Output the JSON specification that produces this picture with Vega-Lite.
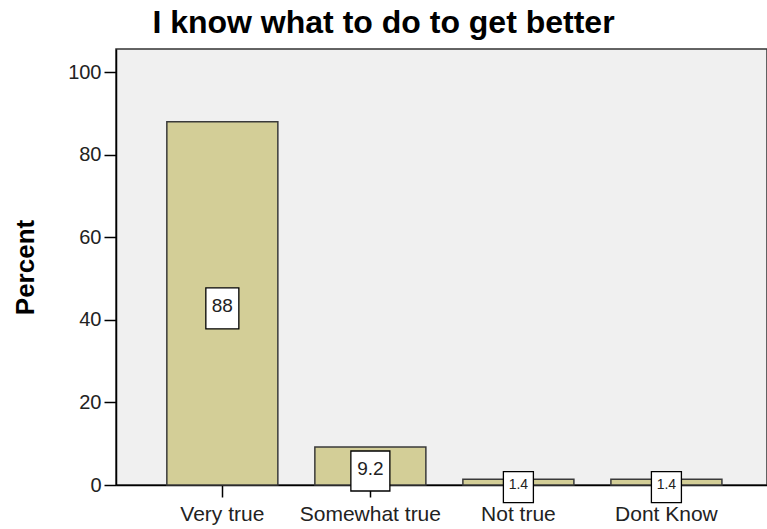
{
  "$schema": "https://vega.github.io/schema/vega-lite/v6.json",
  "width": 651,
  "height": 436,
  "autosize": {"type": "none"},
  "padding": {"left": 116, "top": 49, "right": 0, "bottom": 44},
  "background": "white",
  "config": {
    "view": {"fill": "#F0F0F0", "stroke": "#333333", "strokeWidth": 1.5},
    "font": "Liberation Sans"
  },
  "title": {
    "text": "I know what to do to get better",
    "fontSize": 32,
    "fontWeight": "bold",
    "font": "Liberation Sans",
    "color": "#000000",
    "anchor": "middle",
    "dx": -58,
    "offset": 9
  },
  "data": {
    "values": [
      {"Response": "Very true", "Percent": 88},
      {"Response": "Somewhat true", "Percent": 9.2},
      {"Response": "Not true", "Percent": 1.4},
      {"Response": "Dont Know", "Percent": 1.4}
    ]
  },
  "layer": [
    {
      "mark": {"type": "bar", "fill": "#D3CE97", "stroke": "#3a3a3a", "strokeWidth": 1.5},
      "encoding": {
        "x": {
          "field": "Response",
          "type": "nominal",
          "sort": null,
          "scale": {"paddingInner": 0.25, "paddingOuter": 0.324, "align": 0.53},
          "axis": {
            "title": null,
            "labelAngle": 0,
            "labelFontSize": 21,
            "labelColor": "#222222",
            "labelPadding": 6,
            "tickSize": 12,
            "tickColor": "#000000",
            "tickWidth": 1.5,
            "domainColor": "#000000",
            "domainWidth": 1.5
          }
        },
        "y": {
          "field": "Percent",
          "type": "quantitative",
          "scale": {"domain": [0, 105.6], "nice": false},
          "axis": {
            "title": "Percent",
            "titleFontSize": 26,
            "titleFontWeight": "bold",
            "titleColor": "#000000",
            "titlePadding": 29,
            "values": [0, 20, 40, 60, 80, 100],
            "grid": false,
            "labelFontSize": 20,
            "labelColor": "#222222",
            "labelPadding": 3,
            "tickSize": 12,
            "tickColor": "#000000",
            "tickWidth": 1.5,
            "domainColor": "#000000",
            "domainWidth": 1.5
          }
        }
      }
    },
    {
      "encoding": {
        "x": {"field": "Response", "type": "nominal", "sort": null},
        "y": {
          "field": "Percent",
          "type": "quantitative",
          "scale": {"domain": [0, 211.2], "nice": false},
          "axis": null
        }
      },
      "layer": [
        {
          "mark": {
            "type": "point",
            "filled": true,
            "fill": "white",
            "stroke": "#000000",
            "strokeWidth": 1.3,
            "opacity": 1,
            "yOffset": 5
          },
          "encoding": {
            "shape": {
              "condition": [
                {"test": "datum.Percent < 5", "value": "M-0.968,-1H0.968V1H-0.968Z"},
                {"test": "datum.Percent < 10", "value": "M-0.975,-1H0.975V1H-0.975Z"}
              ],
              "value": "M-0.805,-1H0.805V1H-0.805Z"
            },
            "size": {
              "condition": [
                {"test": "datum.Percent < 5", "value": 961},
                {"test": "datum.Percent < 10", "value": 1600}
              ],
              "value": 1681
            }
          }
        },
        {
          "mark": {
            "type": "text",
            "color": "#222222",
            "baseline": "middle",
            "align": "center",
            "yOffset": 3
          },
          "encoding": {
            "text": {"field": "Percent", "type": "quantitative", "format": ""},
            "size": {
              "condition": {"test": "datum.Percent < 5", "value": 14},
              "value": 19
            }
          }
        }
      ]
    }
  ],
  "resolve": {"scale": {"y": "independent"}}
}
